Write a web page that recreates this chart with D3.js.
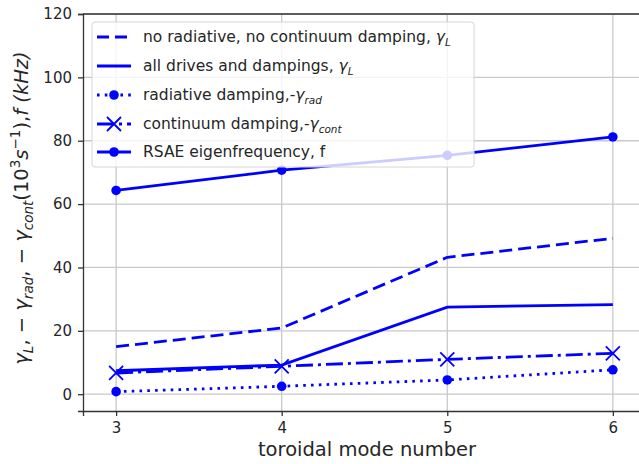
<!DOCTYPE html>
<html>
<head>
<meta charset="utf-8">
<script src="https://cdn.jsdelivr.net/npm/d3@7"></script>
<style>
  html, body { margin: 0; padding: 0; background: #fff; }
  svg { display: block; font-family: "DejaVu Sans", sans-serif; }
</style>
</head>
<body>
<svg id="chart" width="639" height="464"></svg>
<script>
// toroidal mode numbers on the x axis
const modes = [3, 4, 5, 6];
const yTicks = [0, 20, 40, 60, 80, 100, 120];

// growth / damping rates (10^3 s^-1) and frequency (kHz) per mode
const gammaNoRadNoCont = [15.0, 20.9, 43.2, 49.2];
const gammaAll = [7.4, 9.2, 27.5, 28.3];
const radDamping = [0.8, 2.5, 4.5, 7.7];
const contDamping = [6.7, 8.8, 11.0, 12.9];
const rsaeFreq = [64.3, 70.7, 75.4, 81.2];

const legendLabels = [
  ["no radiative, no continuum damping, ", "γ", "L"],
  ["all drives and dampings, ", "γ", "L"],
  ["radiative damping,-", "γ", "rad"],
  ["continuum damping,-", "γ", "cont"],
  ["RSAE eigenfrequency, f", null, null]
];

const blue = "#0000ff";
const svg = d3.select("#chart");
const plotLeft = 83, plotTop = 14, plotBottom = 411, plotRight = 641;

const x = d3.scaleLinear().domain([2.8, 6.17]).range([plotLeft, plotRight]);
const y = d3.scaleLinear().domain([-5.3, 120]).range([plotBottom, plotTop]);

// grid
const grid = svg.append("g").attr("stroke", "#c9c9c9").attr("stroke-width", 1.3);
modes.forEach(m => grid.append("line")
  .attr("x1", x(m)).attr("x2", x(m)).attr("y1", plotTop).attr("y2", plotBottom));
yTicks.forEach(t => grid.append("line")
  .attr("x1", plotLeft).attr("x2", plotRight).attr("y1", y(t)).attr("y2", y(t)));

// axes
const xAxis = svg.append("g").attr("transform", `translate(0,${plotBottom})`)
  .call(d3.axisBottom(x).tickValues(modes).tickFormat(d3.format("d")).tickSize(5).tickPadding(6));
const yAxis = svg.append("g").attr("transform", `translate(${plotLeft},0)`)
  .call(d3.axisLeft(y).tickValues(yTicks).tickSize(5).tickPadding(6));
[xAxis, yAxis].forEach(a => {
  a.select(".domain").attr("stroke", "#333").attr("stroke-width", 1.3);
  a.selectAll(".tick line").attr("stroke", "#333").attr("stroke-width", 1.3);
  a.selectAll(".tick text").attr("fill", "#262626").style("font-size", "15px")
    .style("font-family", "DejaVu Sans, sans-serif");
});
svg.append("line").attr("x1", plotLeft).attr("x2", plotRight).attr("y1", plotTop).attr("y2", plotTop)
  .attr("stroke", "#333").attr("stroke-width", 1.3);

// series
const line = d3.line().x((d, i) => x(modes[i])).y(d => y(d));
const series = [
  { data: gammaNoRadNoCont, dash: "13,6", marker: null },
  { data: gammaAll, dash: null, marker: null },
  { data: radDamping, dash: "2.6,5.2", marker: "dot" },
  { data: contDamping, dash: "17,5,3,5", marker: "x" },
  { data: rsaeFreq, dash: null, marker: "dot" }
];

function drawMarker(g, kind, cx, cy) {
  if (kind === "dot") {
    g.append("circle").attr("cx", cx).attr("cy", cy).attr("r", 4.8).attr("fill", blue);
  } else if (kind === "x") {
    const s = 7;
    g.append("path")
      .attr("d", `M${cx - s},${cy - s}L${cx + s},${cy + s}M${cx - s},${cy + s}L${cx + s},${cy - s}`)
      .attr("stroke", blue).attr("stroke-width", 1.8).attr("fill", "none");
  }
}

const plot = svg.append("g");
series.forEach(s => {
  plot.append("path").datum(s.data).attr("d", line)
    .attr("fill", "none").attr("stroke", blue).attr("stroke-width", 2.8)
    .attr("stroke-dasharray", s.dash);
  if (s.marker) s.data.forEach((v, i) => drawMarker(plot, s.marker, x(modes[i]), y(v)));
});

// legend
const lg = svg.append("g");
lg.append("rect").attr("x", 92).attr("y", 22).attr("width", 382).attr("height", 145)
  .attr("rx", 3).attr("fill", "#fff").attr("fill-opacity", 0.8)
  .attr("stroke", "#d6d6d6").attr("stroke-width", 1);
const rowY = [37, 66, 95, 124, 152];
series.forEach((s, i) => {
  const yy = rowY[i];
  lg.append("line").attr("x1", 97).attr("x2", 131).attr("y1", yy).attr("y2", yy)
    .attr("stroke", blue).attr("stroke-width", 2.8)
    .attr("stroke-dasharray", i === 0 ? "12,6" : s.dash);
  if (s.marker) drawMarker(lg, s.marker, 114, yy);
  const t = lg.append("text").attr("x", 143).attr("y", yy + 5)
    .attr("fill", "#262626").style("font-size", "15.5px");
  const [txt, sym, sub] = legendLabels[i];
  t.append("tspan").text(txt);
  if (sym) {
    t.append("tspan").attr("font-style", "italic").text(sym);
    t.append("tspan").attr("font-style", "italic").attr("dy", 4).style("font-size", "10.5px").text(sub);
  }
});

// axis titles
svg.append("text").attr("x", 367).attr("y", 456).attr("text-anchor", "middle")
  .attr("fill", "#262626").style("font-size", "19.5px").text("toroidal mode number");

const yl = svg.append("text").attr("transform", "translate(28,208) rotate(-90)")
  .attr("text-anchor", "middle").attr("fill", "#262626").style("font-size", "19.5px");
const parts = [
  ["γ", "i"], ["L", "i-sub"], [", − ", "n"], ["γ", "i"], ["rad", "i-sub"],
  [", − ", "n"], ["γ", "i"], ["cont", "i-sub"], ["(10", "n"], ["3", "sup"],
  ["s", "i"], ["−1", "sup"], ["),", "n"], ["f", "i"], [" (kHz)", "i"]
];
let shift = 0;
parts.forEach(([s, kind]) => {
  const ts = yl.append("tspan").text(s);
  let target = 0;
  if (kind === "i" || kind === "i-sub") ts.attr("font-style", "italic");
  if (kind === "i-sub") { target = 4.5; ts.style("font-size", "13.5px"); }
  if (kind === "sup") { target = -8; ts.style("font-size", "13.5px"); }
  ts.attr("dy", target - shift);
  shift = target;
});
</script>
</body>
</html>
